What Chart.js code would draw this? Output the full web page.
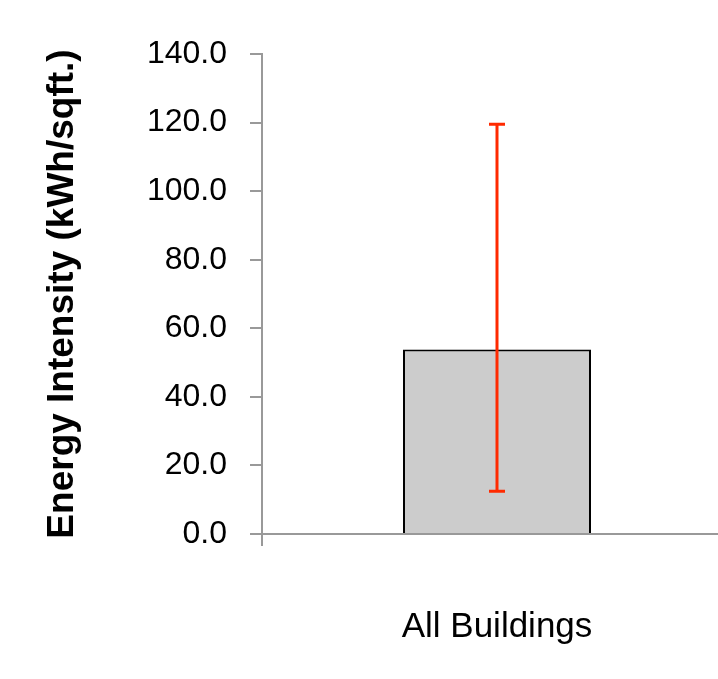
<!DOCTYPE html>
<html>
<head>
<meta charset="utf-8">
<script src="https://cdn.jsdelivr.net/npm/chart.js@4"></script>
<style>
  html, body { margin: 0; padding: 0; background: #fff; overflow: hidden; }
  canvas { display: block; }
</style>
</head>
<body>
<canvas id="chart" width="732" height="679"></canvas>
<script>
const categories = ["All Buildings"];
const intensity = [53.8];
const errorLow = [12.5];
const errorHigh = [119.5];
const yTicks = [0, 20, 40, 60, 80, 100, 120, 140];

const errorBars = {
  id: "errorBars",
  afterDatasetsDraw(chart) {
    const ctx = chart.ctx;
    const y = chart.scales.y;
    const meta = chart.getDatasetMeta(0);
    ctx.save();
    ctx.strokeStyle = "#ff2a00";
    ctx.lineWidth = 3;
    meta.data.forEach((bar, i) => {
      const x = bar.x;
      const top = y.getPixelForValue(errorHigh[i]);
      const bottom = y.getPixelForValue(errorLow[i]);
      ctx.beginPath();
      ctx.moveTo(x, top);
      ctx.lineTo(x, bottom);
      ctx.moveTo(x - 8, top);
      ctx.lineTo(x + 8, top);
      ctx.moveTo(x - 8, bottom);
      ctx.lineTo(x + 8, bottom);
      ctx.stroke();
    });
    ctx.restore();
  }
};

const barShadow = {
  id: "barShadow",
  beforeDatasetDraw(chart) {
    const ctx = chart.ctx;
    ctx.save();
    ctx.shadowColor = "rgba(0,0,0,0.25)";
    ctx.shadowBlur = 6;
    ctx.shadowOffsetX = 3;
    ctx.shadowOffsetY = 2;
  },
  afterDatasetDraw(chart) {
    chart.ctx.restore();
  }
};

new Chart(document.getElementById("chart"), {
  type: "bar",
  data: {
    labels: categories,
    datasets: [
      {
        data: intensity,
        backgroundColor: "#cccccc",
        borderColor: "#000000",
        borderWidth: 2,
        categoryPercentage: 1,
        barPercentage: 0.4,
      },
    ],
  },
  options: {
    responsive: false,
    animation: false,
    layout: { padding: { top: 54, left: 0, right: 0, bottom: 0 } },
    plugins: {
      legend: { display: false },
      tooltip: { enabled: false },
    },
    scales: {
      x: {
        offset: true,
        border: { color: "#999999", width: 2 },
        grid: {
          drawOnChartArea: false,
          offset: true,
          tickLength: 12,
          tickColor: "#999999",
          lineWidth: 2,
        },
        ticks: {
          color: "#000000",
          padding: 60,
          font: { family: "Liberation Sans, Arial, sans-serif", size: 35 },
        },
        afterFit(scale) {
          scale.height = 145;
        },
      },
      y: {
        min: 0,
        max: 140,
        border: { color: "#999999", width: 2 },
        grid: {
          drawOnChartArea: false,
          tickLength: 12,
          tickColor: "#999999",
          lineWidth: 2,
        },
        afterBuildTicks(scale) {
          scale.ticks = yTicks.map((v) => ({ value: v }));
        },
        ticks: {
          color: "#000000",
          padding: 23,
          font: { family: "Liberation Sans, Arial, sans-serif", size: 32 },
          callback: (v) => Number(v).toFixed(1),
        },
        title: {
          display: true,
          text: "Energy Intensity (kWh/sqft.)",
          color: "#000000",
          padding: { top: 41, bottom: 0 },
          font: { family: "Liberation Sans, Arial, sans-serif", size: 37, weight: "bold" },
        },
        afterFit(scale) {
          scale.width = 262;
        },
      },
    },
  },
  plugins: [barShadow, errorBars],
});
</script>
</body>
</html>
